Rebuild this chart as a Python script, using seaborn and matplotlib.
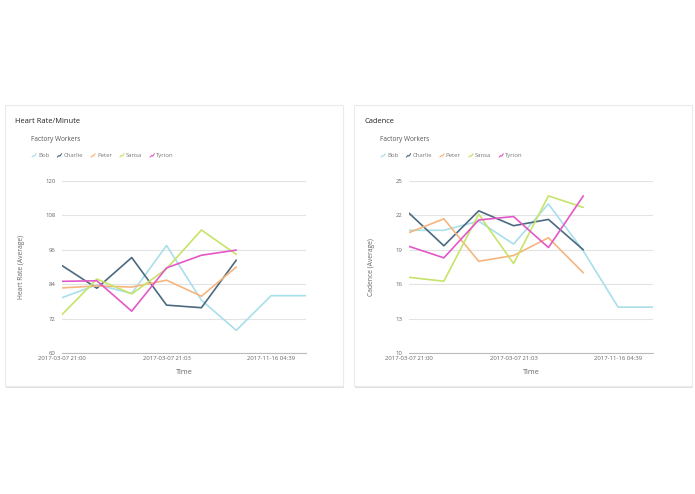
import seaborn as sns
import matplotlib.pyplot as plt
import pandas as pd
from matplotlib.patches import Rectangle
from matplotlib.lines import Line2D

# sample slots along the time axis (categorical), only some are labelled
steps = [0, 1, 2, 3, 4, 5, 6, 7]
tick_steps = [0, 3, 6]
tick_labels = ["2017-03-07 21:00", "2017-03-07 21:03", "2017-11-16 04:39"]

workers = ["Bob", "Charlie", "Peter", "Sansa", "Tyrion"]
colors = ["#a9dfea", "#4b6a80", "#f7b57e", "#c6e468", "#e457c8"]

# heart rate per minute (average)
hr_bob = [79.3, 83.8, 80.8, 97.5, 78.4, 67.9, 80, 80]
hr_charlie = [90.5, 82.6, 93.3, 76.7, 75.8, 92.4]
hr_peter = [82.7, 83.4, 83.0, 85.4, 79.8, 90.0]
hr_sansa = [73.4, 85.8, 80.6, 89.4, 102.9, 94.4]
hr_tyrion = [85.0, 85.2, 74.6, 89.7, 94.1, 95.9]

# cadence (average)
cad_bob = [20.7, 20.7, 21.5, 19.5, 23.0, 18.9, 14.0, 14.0]
cad_charlie = [22.2, 19.35, 22.4, 21.1, 21.65, 19.0]
cad_peter = [20.5, 21.7, 18.0, 18.5, 20.05, 17.0]
cad_sansa = [16.6, 16.26, 22.1, 17.8, 23.7, 22.7]
cad_tyrion = [19.3, 18.3, 21.6, 21.9, 19.2, 23.7]


def long_df(series):
    rows = []
    for name, vals in zip(workers, series):
        for s, v in zip(steps, vals):
            rows.append({"step": s, "value": v, "worker": name})
    return pd.DataFrame(rows)


hr_df = long_df([hr_bob, hr_charlie, hr_peter, hr_sansa, hr_tyrion])
cad_df = long_df([cad_bob, cad_charlie, cad_peter, cad_sansa, cad_tyrion])

sns.set_theme(style="white")
plt.rcParams["font.family"] = ["Open Sans", "DejaVu Sans"]

W, H = 695, 494
fig = plt.figure(figsize=(6.95, 4.94), dpi=100)
fig.patch.set_facecolor("white")
renderer = fig.canvas.get_renderer()


def px(x0, y0, w, h):
    return [x0 / W, 1 - (y0 + h) / H, w / W, h / H]


def card(x0, y0, w, h):
    sx, sy = px(x0 + 1, y0 + 2, w, h)[:2]
    fig.patches.append(Rectangle((sx, sy), w / W, h / H, transform=fig.transFigure,
                                 facecolor="#e0e0e0", edgecolor="none", zorder=-3))
    bx, by = px(x0, y0, w, h)[:2]
    fig.patches.append(Rectangle((bx, by), w / W, h / H, transform=fig.transFigure,
                                 facecolor="white", edgecolor="#ebebeb", lw=0.8, zorder=-2))


def legend_icon(x, y, col):
    # small zig-zag line symbol
    xs = [x, x + 1.6, x + 2.6, x + 4.2]
    ys = [y + 1.8, y + 0.2, y + 0.8, y - 1.6]
    fig.lines.append(Line2D([v / W for v in xs], [1 - v / H for v in ys],
                            transform=fig.transFigure, color=col, lw=0.8))


panels = [
    (5, 62, hr_df, "Heart Rate/Minute", "Heart Rate (Average)", (60, 120), [60, 72, 84, 96, 108, 120]),
    (354, 409, cad_df, "Cadence", "Cadence (Average)", (10, 25), [10, 13, 16, 19, 22, 25]),
]

for cx, ax_x, df, title, ylabel, ylim, yticks in panels:
    card(cx, 105, 338, 281)
    ax = fig.add_axes(px(ax_x, 181, 244, 172))
    ax.set_facecolor("none")
    sns.lineplot(data=df, x="step", y="value", hue="worker", palette=colors,
                 hue_order=workers, linewidth=1.2, ax=ax, legend=False)
    ax.set_xlim(0, 7)
    ax.set_ylim(*ylim)
    ax.set_yticks(yticks)
    ax.set_xticks(tick_steps)
    ax.set_xticklabels(tick_labels)
    ax.tick_params(axis="y", labelsize=4.3, colors="#666666", length=0, pad=4.5)
    ax.tick_params(axis="x", labelsize=4.3, labelcolor="#666666", length=3,
                   color="#bbbbbb", pad=2.2, direction="in")
    ax.grid(axis="y", color="#e3e3e3", lw=0.8)
    for side in ["top", "right", "left"]:
        ax.spines[side].set_visible(False)
    ax.spines["bottom"].set_color("#bbbbbb")
    ax.spines["bottom"].set_linewidth(0.8)
    ax.set_xlabel("Time", fontsize=5.2, color="#666666", labelpad=6)
    ax.set_ylabel(ylabel, fontsize=4.9, color="#666666", labelpad=15)

    fig.text((cx + 10) / W, 1 - 121.5 / H, title, fontsize=5.4, color="#222222", va="center")
    fig.text((cx + 26) / W, 1 - 139.3 / H, "Factory Workers", fontsize=4.7, color="#555555", va="center")
    lx = cx + 27
    for name, col in zip(workers, colors):
        legend_icon(lx, 155.3, col)
        t = fig.text((lx + 6) / W, 1 - 155.3 / H, name, fontsize=4.3, color="#777777", va="center")
        tw = t.get_window_extent(renderer).width
        lx += 6 + tw + 8

fig.savefig("out.png", dpi=100, facecolor="white")
